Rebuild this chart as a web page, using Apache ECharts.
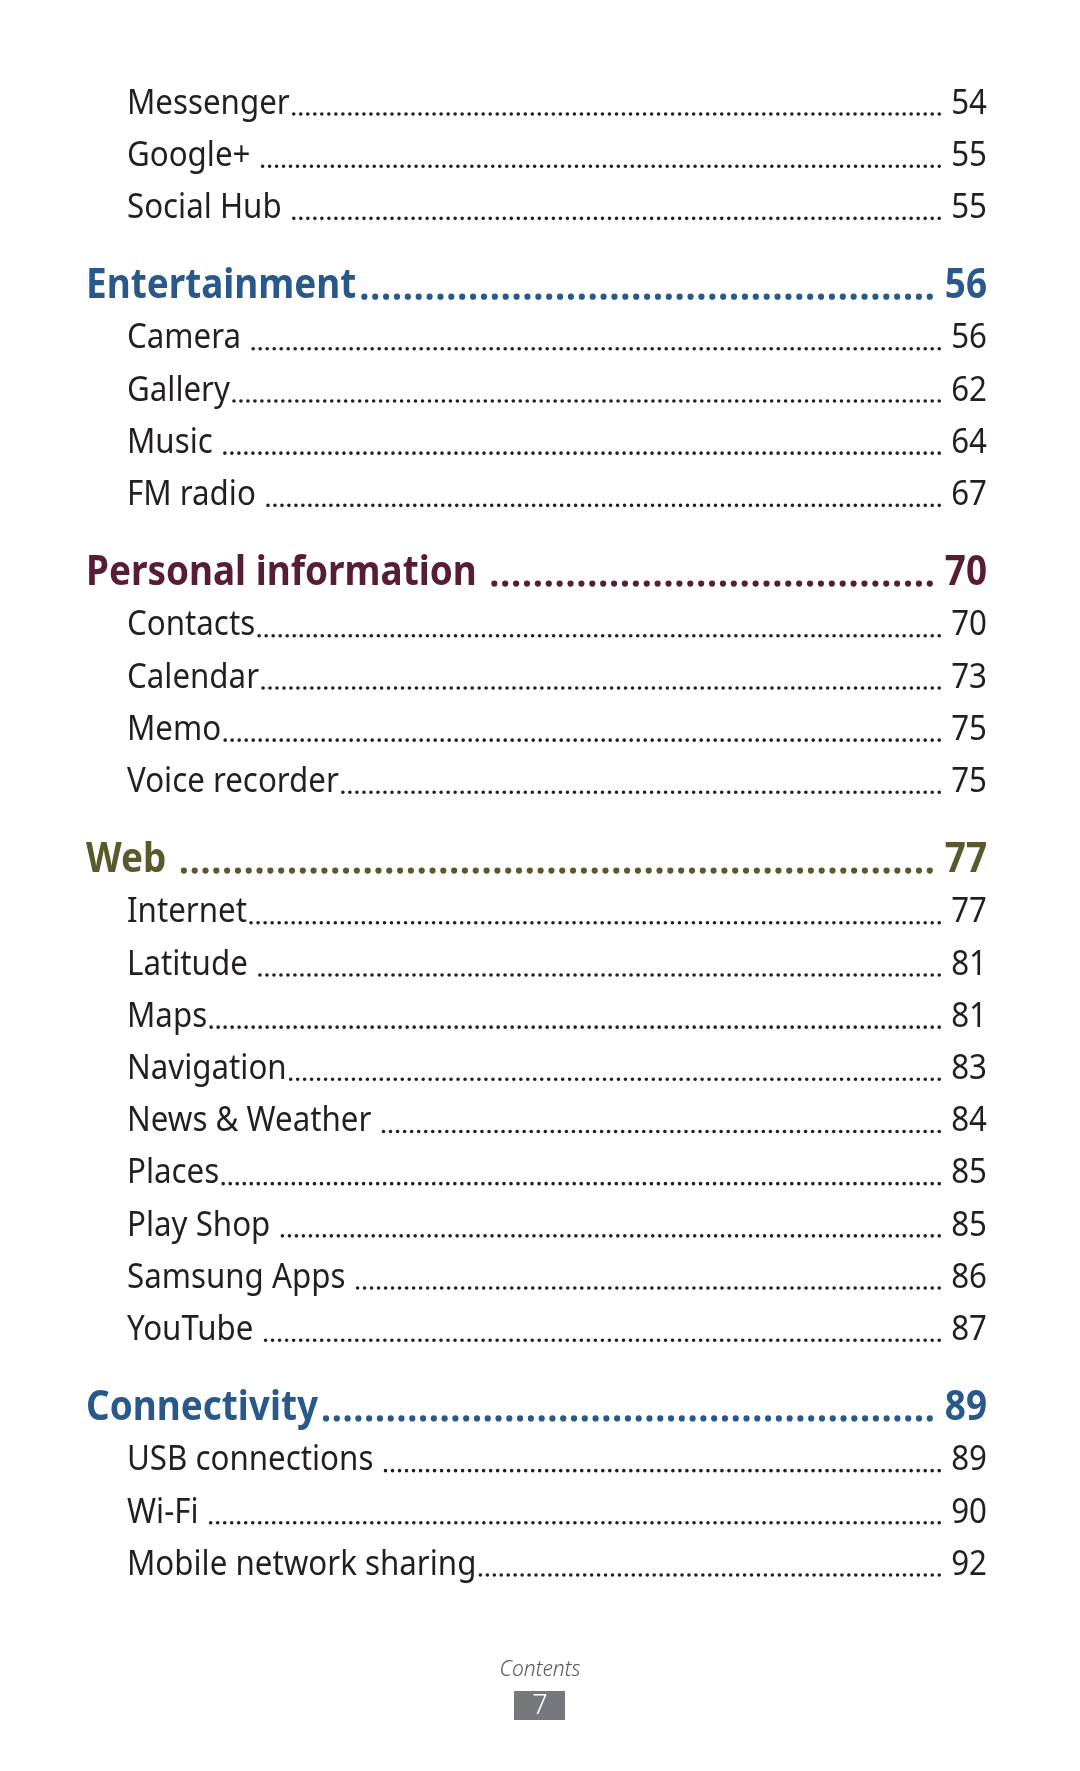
<!DOCTYPE html>
<html>
<head>
<meta charset="utf-8">
<script src="https://cdn.jsdelivr.net/npm/echarts@6/dist/echarts.min.js"></script>
<style>
html,body{margin:0;padding:0;background:#fff;}
#chart{width:1080px;height:1771px;}
</style>
</head>
<body>
<div id="chart"></div>
<script>
// ---- data ----
const headings = ['Entertainment', 'Personal information ', 'Web ', 'Connectivity'];
const headingPages = [56, 70, 77, 89];
const itemNames = ['Messenger', 'Google+ ', 'Social Hub ',
  'Camera ', 'Gallery', 'Music ', 'FM radio ',
  'Contacts', 'Calendar', 'Memo', 'Voice recorder',
  'Internet', 'Latitude ', 'Maps', 'Navigation', 'News & Weather ', 'Places', 'Play Shop ', 'Samsung Apps ', 'YouTube ',
  'USB connections ', 'Wi-Fi ', 'Mobile network sharing'];
const itemPages = [54, 55, 55,
  56, 62, 64, 67,
  70, 73, 75, 75,
  77, 81, 81, 83, 84, 85, 85, 86, 87,
  89, 90, 92];
const itemSection = [-1, -1, -1,
  0, 0, 0, 0,
  1, 1, 1, 1,
  2, 2, 2, 2, 2, 2, 2, 2, 2,
  3, 3, 3];
const footerLabel = 'Contents';
const footerPage = '7';

// ---- styles ----
const headingColors = ['#28598a', '#561d35', '#5a592b', '#28598a'];
const itemColor = '#231f20';
const FONT = '"Noto Sans", sans-serif';
const ITEM_SIZE = 34, HEAD_SIZE = 41, SX = 0.92, HSX = 0.9;

// ---- build rows (slot units along the y axis) ----
const rows = [];
let slot = 0, cur = -1, first = true;
itemNames.forEach((n, i) => {
  const s = itemSection[i];
  if (s !== cur) {
    if (!first) slot += 3;
    rows.push([0, slot, 1, s]);
    slot += 2;
    cur = s;
  } else if (!first) {
    slot += 2;
  }
  rows.push([0, slot, 0, i]);
  first = false;
});
const maxSlot = slot;

const mctx = document.createElement('canvas').getContext('2d');
function measure(text, weight, size, sx) {
  mctx.font = weight + ' ' + size + 'px ' + FONT;
  return mctx.measureText(text).width * sx;
}
// dotted leader whose dots land exactly on both ends
function leader(start, end, y, color, width, step) {
  const n = Math.max(1, Math.round((end - start) / step));
  const sp = (end - start) / n;
  return {type: 'line', shape: {x1: start, y1: y, x2: end + 0.5, y2: y},
    style: {stroke: color, lineWidth: width, lineDash: [0.01, sp - 0.01], lineCap: 'round'}};
}

const chart = echarts.init(document.getElementById('chart'), null, {renderer: 'canvas'});
chart.setOption({
  animation: false,
  grid: {left: 0, right: 0, top: 104, bottom: 206},
  xAxis: {type: 'value', min: 0, max: 1, show: false},
  yAxis: {type: 'value', inverse: true, min: 0, max: maxSlot, show: false},
  series: [{
    type: 'custom',
    data: rows,
    encode: {x: 0, y: 1},
    clip: false,
    renderItem: function (params, api) {
      const s = api.value(1), kind = api.value(2), idx = api.value(3);
      const y = api.coord([0, s])[1];
      const right = 987;
      if (kind === 1) {
        const label = headings[idx], page = String(headingPages[idx]);
        const color = headingColors[idx];
        const left = 86;
        const lw = measure(label, 'bold', HEAD_SIZE, HSX);
        const pw = measure(page, 'bold', HEAD_SIZE, HSX);
        const font = 'bold ' + HEAD_SIZE + 'px ' + FONT;
        return {type: 'group', children: [
          {type: 'text', x: left, y: y, scaleX: HSX, style: {text: label, font: font, fill: color, align: 'left', verticalAlign: 'middle'}},
          leader(left + lw + 8, right - pw - 15, y + 10, color, 6.2, 10.8),
          {type: 'text', x: right, y: y, scaleX: HSX, style: {text: page, font: font, fill: color, align: 'right', verticalAlign: 'middle'}}
        ]};
      } else {
        const label = itemNames[idx], page = String(itemPages[idx]);
        const left = 127;
        const lw = measure(label, 'normal', ITEM_SIZE, SX);
        const pw = measure(page, 'normal', ITEM_SIZE, SX);
        const font = 'normal ' + ITEM_SIZE + 'px ' + FONT;
        return {type: 'group', children: [
          {type: 'text', x: left, y: y, scaleX: SX, style: {text: label, font: font, fill: itemColor, align: 'left', verticalAlign: 'middle'}},
          leader(left + lw + 4, right - pw - 12, y + 10, itemColor, 3.6, 7),
          {type: 'text', x: right, y: y, scaleX: SX, style: {text: page, font: font, fill: itemColor, align: 'right', verticalAlign: 'middle'}}
        ]};
      }
    }
  }],
  graphic: [
    {type: 'text', x: 540, y: 1670, style: {text: footerLabel, font: 'italic 300 21px ' + FONT, fill: '#58595b', align: 'center', verticalAlign: 'middle'}},
    {type: 'rect', shape: {x: 514, y: 1691, width: 51, height: 29}, style: {fill: '#77787b'}},
    {type: 'text', x: 540, y: 1706, style: {text: footerPage, font: '300 27px ' + FONT, fill: '#ffffff', align: 'center', verticalAlign: 'middle'}}
  ]
});
</script>
</body>
</html>
